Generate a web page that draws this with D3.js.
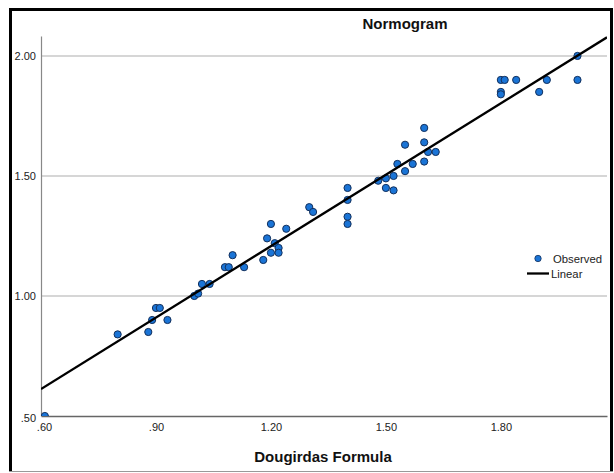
<!DOCTYPE html>
<html>
<head>
<meta charset="utf-8">
<script src="https://cdn.jsdelivr.net/npm/d3@7"></script>
<style>
  body { margin: 0; background: #fff; }
  svg { display: block; font-family: "Liberation Sans", Arial, sans-serif; }
</style>
</head>
<body>
<svg id="chart"></svg>
<script>
const width = 614;
const height = 473;

// Dougirdas Formula (x) vs observed value (y)
const dougirdas = [0.61, 0.80, 0.88, 0.89, 0.90, 0.91, 0.93, 1.00, 1.01, 1.02, 1.04, 1.08, 1.09,
  1.10, 1.13, 1.18, 1.19, 1.20, 1.21, 1.20, 1.22, 1.22, 1.24, 1.30, 1.31, 1.40, 1.40, 1.40,
  1.40, 1.48, 1.50, 1.50, 1.52, 1.52, 1.53, 1.55, 1.55, 1.57, 1.60, 1.60, 1.60, 1.61, 1.63,
  1.80, 1.81, 1.80, 1.80, 1.84, 1.90, 1.92, 2.00, 2.00];
const observed = [0.50, 0.84, 0.85, 0.90, 0.95, 0.95, 0.90, 1.00, 1.01, 1.05, 1.05, 1.12, 1.12,
  1.17, 1.12, 1.15, 1.24, 1.30, 1.22, 1.18, 1.20, 1.18, 1.28, 1.37, 1.35, 1.45, 1.40, 1.33,
  1.30, 1.48, 1.49, 1.45, 1.50, 1.44, 1.55, 1.63, 1.52, 1.55, 1.70, 1.64, 1.56, 1.60, 1.60,
  1.90, 1.90, 1.85, 1.84, 1.90, 1.85, 1.90, 2.00, 1.90];

// linear fit
const slope = 0.992;
const intercept = 0.017;

const xTicks = [0.6, 0.9, 1.2, 1.5, 1.8];
const xTickLabels = [".60", ".90", "1.20", "1.50", "1.80"];
const yTicks = [0.5, 1.0, 1.5, 2.0];
const yTickLabels = [".50", "1.00", "1.50", "2.00"];

const plot = { left: 41, right: 607, top: 36, bottom: 416 };

const svg = d3.select("#chart")
    .attr("width", width)
    .attr("height", height);

const x = d3.scaleLinear()
    .domain([0.6, 2.077])
    .range([plot.left, plot.right]);

const y = d3.scaleLinear()
    .domain([0.5, 2.083])
    .range([plot.bottom, plot.top]);

svg.append("defs").append("clipPath")
    .attr("id", "plot-clip")
  .append("rect")
    .attr("x", plot.left)
    .attr("y", plot.top)
    .attr("width", plot.right - plot.left)
    .attr("height", plot.bottom - plot.top);

// frame around the whole picture
svg.append("line").attr("x1", 10.5).attr("x2", 10.5).attr("y1", 8).attr("y2", 472)
    .attr("stroke", "#000").attr("stroke-width", 3);
svg.append("line").attr("x1", 9).attr("x2", 613).attr("y1", 9.5).attr("y2", 9.5)
    .attr("stroke", "#000").attr("stroke-width", 3);
svg.append("line").attr("x1", 611.5).attr("x2", 611.5).attr("y1", 8).attr("y2", 472)
    .attr("stroke", "#000").attr("stroke-width", 3);
svg.append("line").attr("x1", 9).attr("x2", 613).attr("y1", 471.5).attr("y2", 471.5)
    .attr("stroke", "#999").attr("stroke-width", 1);

// gridlines
svg.append("g")
    .selectAll("line")
    .data(yTicks.slice(1))
  .enter().append("line")
    .attr("x1", plot.left)
    .attr("x2", plot.right)
    .attr("y1", d => y(d))
    .attr("y2", d => y(d))
    .attr("stroke", "#c8c8c8")
    .attr("stroke-width", 1.5);

// axes
const xAxis = svg.append("g")
    .attr("transform", `translate(0,${plot.bottom})`)
    .call(d3.axisBottom(x)
      .tickValues(xTicks)
      .tickFormat((d, i) => xTickLabels[i])
      .tickSize(0)
      .tickPadding(7));
xAxis.select(".domain").attr("stroke", "#666").attr("stroke-width", 1.5);
xAxis.selectAll("text").attr("font-size", 11).attr("fill", "#222").attr("font-family", null);
xAxis.select(".tick text").attr("dx", 3);

const yAxis = svg.append("g")
    .attr("transform", `translate(${plot.left},0)`)
    .call(d3.axisLeft(y)
      .tickValues(yTicks)
      .tickFormat((d, i) => yTickLabels[i])
      .tickSize(0)
      .tickPadding(5));
yAxis.select(".domain").attr("stroke", "#888").attr("stroke-width", 1.2);
yAxis.selectAll("text").attr("font-size", 11).attr("fill", "#222").attr("font-family", null);
yAxis.select(".tick text").attr("dy", "0.5em");

// observed points
const points = dougirdas.map((d, i) => ({ x: d, y: observed[i] }));

svg.append("g")
    .attr("clip-path", "url(#plot-clip)")
    .selectAll("circle")
    .data(points)
  .enter().append("circle")
    .attr("cx", d => x(d.x))
    .attr("cy", d => y(d.y))
    .attr("r", 3.6)
    .attr("fill", "#1a74d6")
    .attr("stroke", "#13305c")
    .attr("stroke-width", 1);

// fit line
const fitX = x.domain();
svg.append("line")
    .attr("clip-path", "url(#plot-clip)")
    .attr("x1", x(fitX[0]))
    .attr("y1", y(slope * fitX[0] + intercept))
    .attr("x2", x(fitX[1]))
    .attr("y2", y(slope * fitX[1] + intercept))
    .attr("stroke", "#000")
    .attr("stroke-width", 2.3);

// titles
svg.append("text")
    .attr("x", 405)
    .attr("y", 29)
    .attr("text-anchor", "middle")
    .attr("font-size", 15)
    .attr("font-weight", "bold")
    .attr("fill", "#111")
    .text("Normogram");

svg.append("text")
    .attr("x", 323)
    .attr("y", 462)
    .attr("text-anchor", "middle")
    .attr("font-size", 15)
    .attr("font-weight", "bold")
    .attr("fill", "#111")
    .text("Dougirdas Formula");

// legend
const legend = svg.append("g");
legend.append("circle")
    .attr("cx", 538)
    .attr("cy", 258.5)
    .attr("r", 3.2)
    .attr("fill", "#1a74d6")
    .attr("stroke", "#13305c")
    .attr("stroke-width", 0.8);
legend.append("text")
    .attr("x", 553)
    .attr("y", 263)
    .attr("font-size", 11.3)
    .attr("fill", "#222")
    .text("Observed");
legend.append("line")
    .attr("x1", 527)
    .attr("x2", 549)
    .attr("y1", 273.5)
    .attr("y2", 273.5)
    .attr("stroke", "#000")
    .attr("stroke-width", 2.3);
legend.append("text")
    .attr("x", 551)
    .attr("y", 278)
    .attr("font-size", 11.3)
    .attr("fill", "#222")
    .text("Linear");
</script>
</body>
</html>
